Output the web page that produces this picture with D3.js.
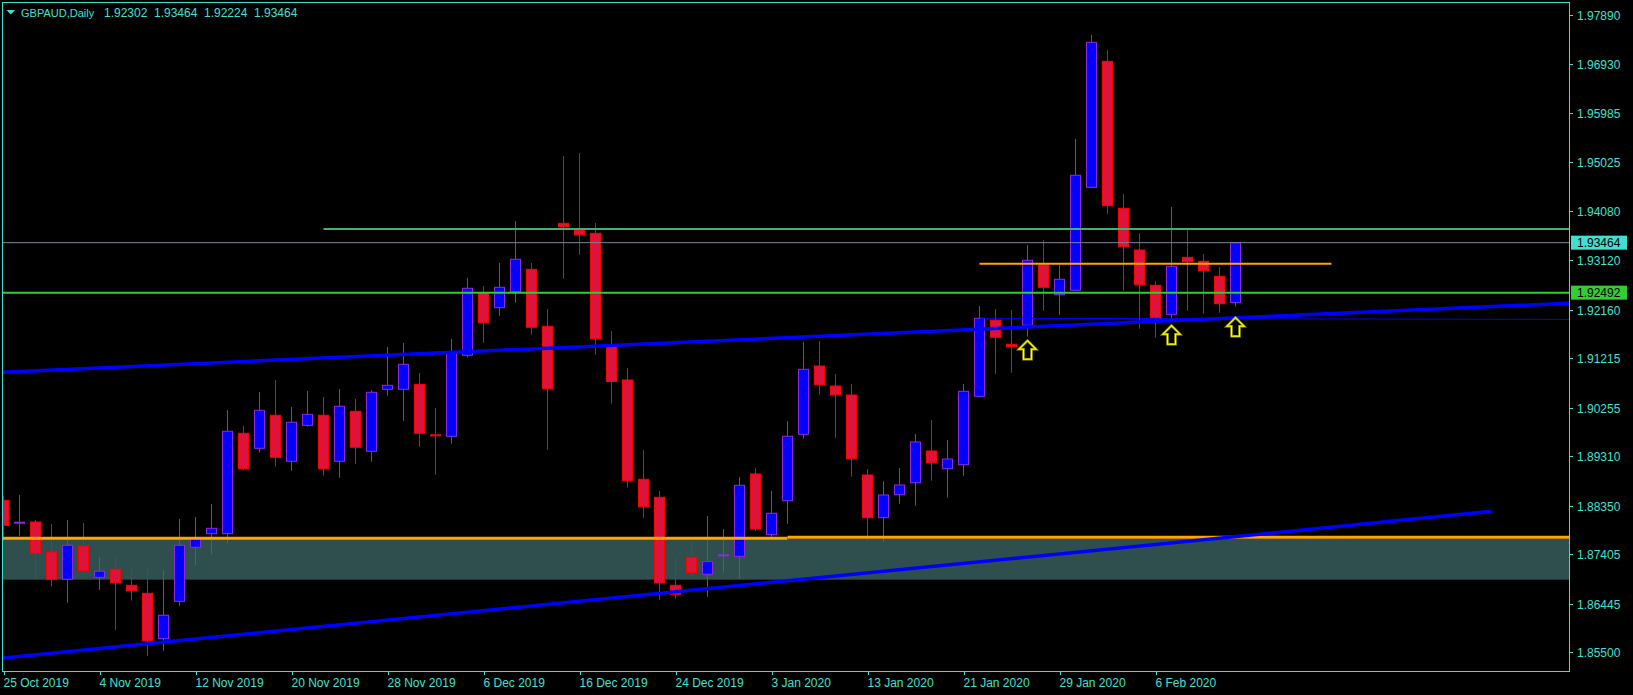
<!DOCTYPE html>
<html><head><meta charset="utf-8">
<script src="https://cdn.jsdelivr.net/npm/d3@7"></script>
<style>body{margin:0;background:#000;overflow:hidden}svg{display:block}</style>
</head><body>
<svg id="chart" width="1633" height="695"></svg>
<script>
// ---- DATA ----
const dates = ["2019-10-25","2019-10-28","2019-10-29","2019-10-30","2019-10-31","2019-11-01",
"2019-11-04","2019-11-05","2019-11-06","2019-11-07","2019-11-08","2019-11-11","2019-11-12","2019-11-13","2019-11-14","2019-11-15",
"2019-11-18","2019-11-19","2019-11-20","2019-11-21","2019-11-22","2019-11-25","2019-11-26","2019-11-27","2019-11-28","2019-11-29",
"2019-12-02","2019-12-03","2019-12-04","2019-12-05","2019-12-06","2019-12-09","2019-12-10","2019-12-11","2019-12-12","2019-12-13",
"2019-12-16","2019-12-17","2019-12-18","2019-12-19","2019-12-20","2019-12-23","2019-12-24","2019-12-26","2019-12-27","2019-12-30",
"2019-12-31","2020-01-02","2020-01-03","2020-01-06","2020-01-07","2020-01-08","2020-01-09","2020-01-10","2020-01-13","2020-01-14",
"2020-01-15","2020-01-16","2020-01-17","2020-01-20","2020-01-21","2020-01-22","2020-01-23","2020-01-24","2020-01-27","2020-01-28",
"2020-01-29","2020-01-30","2020-01-31","2020-02-03","2020-02-04","2020-02-05","2020-02-06","2020-02-07","2020-02-10","2020-02-11",
"2020-02-12","2020-02-13"];
const opens = [1.88455,1.88020,1.88033,1.87450,1.86920,1.87567,1.86958,1.87114,1.86803,1.86647,
1.85765,1.86492,1.87542,1.87806,1.87806,1.89758,1.89466,1.90108,1.89214,1.89913,
1.90108,1.89214,1.90186,1.89408,1.90613,1.90613,1.90710,1.89720,1.89700,1.91274,
1.92485,1.92200,1.92505,1.92946,1.91838,1.93840,1.93710,1.93646,1.91436,1.90794,
1.88864,1.88514,1.86803,1.87347,1.87017,1.87386,1.87367,1.88967,1.87787,1.88447,
1.89738,1.91066,1.90677,1.90502,1.88947,1.88117,1.88564,1.88797,1.89414,1.89070,
1.89147,1.90477,1.91955,1.91488,1.91858,1.93030,1.92452,1.92538,1.94540,1.96990,
1.94132,1.93321,1.92635,1.92071,1.93179,1.93102,1.92810,1.92302];
const highs = [1.88539,1.88558,1.88072,1.87995,1.88072,1.88014,1.87347,1.87359,1.87114,1.87139,
1.87100,1.88092,1.88131,1.88383,1.90211,1.89900,1.90561,1.90794,1.90269,1.90580,
1.90464,1.90619,1.90425,1.90600,1.91436,1.91513,1.90930,1.90250,1.91591,1.92777,
1.92621,1.93069,1.93885,1.93069,1.92174,1.95149,1.95207,1.93846,1.91747,1.91027,
1.89433,1.88636,1.87334,1.87645,1.88150,1.87897,1.88908,1.89083,1.88636,1.89997,
1.91533,1.91552,1.90911,1.90716,1.89064,1.88830,1.89083,1.89744,1.90016,1.89628,
1.90716,1.92233,1.92174,1.92155,1.93419,1.93516,1.93030,1.95479,1.97501,1.97210,
1.94410,1.93646,1.92713,1.94157,1.93710,1.93244,1.92985,1.93464];
const lows = [1.87625,1.87767,1.86925,1.86776,1.86465,1.87003,1.86711,1.85934,1.86504,1.85428,
1.85531,1.86406,1.87197,1.87411,1.87619,1.89044,1.89381,1.89109,1.89031,1.89886,
1.88934,1.88895,1.89167,1.89206,1.90489,1.90003,1.89497,1.88953,1.89556,1.91231,
1.91519,1.92044,1.92297,1.91675,1.89439,1.92763,1.93230,1.91286,1.90333,1.88700,
1.88117,1.86517,1.86542,1.86984,1.86581,1.87048,1.86931,1.87858,1.87748,1.88000,
1.89653,1.90508,1.89672,1.88914,1.87639,1.87639,1.88389,1.88350,1.88836,1.88506,
1.88934,1.90458,1.90917,1.90936,1.91636,1.92141,1.92064,1.92530,1.94530,1.94027,
1.92530,1.91791,1.91616,1.91999,1.92141,1.92083,1.92102,1.92224];
const closes = [1.87969,1.88020,1.87425,1.86920,1.87580,1.87087,1.87075,1.86853,1.86698,1.85726,
1.86220,1.87580,1.87713,1.87911,1.89797,1.89070,1.90205,1.89291,1.89972,1.90127,
1.89070,1.90283,1.89486,1.90555,1.90691,1.91099,1.89758,1.89718,1.91348,1.92577,
1.91908,1.92596,1.93141,1.91819,1.90625,1.93774,1.93619,1.91597,1.90765,1.88836,
1.88331,1.86853,1.86628,1.87048,1.87262,1.87386,1.88747,1.87897,1.88203,1.89700,
1.91002,1.90703,1.90508,1.89264,1.88117,1.88558,1.88753,1.89589,1.89186,1.89258,
1.90574,1.91994,1.91624,1.91441,1.93121,1.92596,1.92752,1.94774,1.97359,1.94183,
1.93386,1.92647,1.92005,1.93004,1.93094,1.92919,1.92277,1.93464];

const priceTicks = [1.97890,1.96930,1.95985,1.95025,1.94080,1.93120,1.92160,1.91215,1.90255,1.89310,1.88350,1.87405,1.86445,1.85500];
const dateTickBars = [0,6,12,18,24,30,36,42,48,54,60,66,72];
const dateTickLabels = ["25 Oct 2019","4 Nov 2019","12 Nov 2019","20 Nov 2019","28 Nov 2019","6 Dec 2019","16 Dec 2019","24 Dec 2019","3 Jan 2020","13 Jan 2020","21 Jan 2020","29 Jan 2020","6 Feb 2020"];

// horizontal levels: [startBar or null(left edge), endBar or null(right edge), price]
const seaGreenLevel = [20, null, 1.93730];
const bidLevel = [null, null, 1.93464];
const limeLevel = [null, null, 1.92492];
const orangeShortLevel = [61, 83, 1.93055];
const orangeLowLeft = [null, 49, 1.87717];
const orangeLowRight = [49, null, 1.87736];
// zone rectangle: [top price, bottom price]
const zone = [1.87710, 1.86912];
// trendlines: two anchors [bar, price], drawn from startBar(null = left edge) to endBar(null = right edge)
const upperTrend = {a:[0,1.90947], b:[90,1.92180], from:null, to:null};
const lowerTrend = {a:[0,1.85389], b:[93,1.88241], from:null, to:93};
const thinTrend = {a:[61,1.91994], b:[97,1.91972], from:61, to:null};
// up arrows: [bar, price of tip]
const arrowBars = [64, 73, 77];
const arrowPrices = [1.91558, 1.91850, 1.92005];

const titleName = "GBPAUD,Daily";
const titleValues = ["1.92302","1.93464","1.92224","1.93464"];

// ---- DRAW ----
const W = 1633, H = 695;
const L = 2, R = 1569, T = 2, B = 671;
const axisColor = "#40E0D0";
const svg = d3.select("#chart");
svg.append("rect").attr("width", W).attr("height", H).attr("fill", "#000");

const x = d3.scaleLinear().domain([0, 77]).range([3.5, 3.5 + 16 * 77]);
const y = d3.scaleLinear().domain([1.85500, 1.97890]).range([652.3, 15]);
const leftBar = x.invert(L), rightBar = x.invert(R);

svg.append("defs").append("clipPath").attr("id", "plotClip")
  .append("rect").attr("x", L + 1).attr("y", T + 1).attr("width", R - L - 1).attr("height", B - T - 1);
const g = svg.append("g").attr("clip-path", "url(#plotClip)");

// zone
g.append("rect").attr("x", L).attr("width", R - L)
  .attr("y", y(zone[0])).attr("height", y(zone[1]) - y(zone[0]))
  .attr("fill", "#2F4F4F");

// candles
const candles = dates.map((d, i) => ({i, o: opens[i], h: highs[i], l: lows[i], c: closes[i]}));
const cg = g.append("g");
candles.forEach(d => {
  const bull = d.c >= d.o;
  const line = bull ? "#8A2BE2" : "#FF0000";
  const fill = bull ? "#0000FF" : "#DC143C";
  const cx = x(d.i);
  cg.append("line").attr("x1", cx).attr("x2", cx).attr("y1", y(d.h)).attr("y2", y(d.l))
    .attr("stroke", line).attr("stroke-width", 1);
  const yt = y(Math.max(d.o, d.c)), yb = y(Math.min(d.o, d.c));
  if (yb - yt < 1.5) {
    cg.append("line").attr("x1", cx - 5.5).attr("x2", cx + 5.5).attr("y1", (yt + yb) / 2).attr("y2", (yt + yb) / 2)
      .attr("stroke", line).attr("stroke-width", 2);
  } else {
    cg.append("rect").attr("x", cx - 5).attr("width", 10).attr("y", yt).attr("height", yb - yt)
      .attr("fill", fill).attr("stroke", line).attr("stroke-width", 1);
  }
});

// horizontal lines
function hline(level, color, width) {
  const x1 = level[0] == null ? L : x(level[0]);
  const x2 = level[1] == null ? R : x(level[1]);
  g.append("line").attr("x1", x1).attr("x2", x2).attr("y1", y(level[2])).attr("y2", y(level[2]))
    .attr("stroke", color).attr("stroke-width", width);
}
hline(seaGreenLevel, "#3CB371", 2);
hline(bidLevel, "#778899", 1);
hline(limeLevel, "#32CD32", 2);
hline(orangeShortLevel, "#FFA500", 2);
hline(orangeLowLeft, "#FFA500", 3);
hline(orangeLowRight, "#FFA500", 3);

// trendlines
const lineGen = d3.line().x(p => x(p[0])).y(p => y(p[1]));
function trend(t, color, width) {
  const f = b => t.a[1] + (b - t.a[0]) * (t.b[1] - t.a[1]) / (t.b[0] - t.a[0]);
  const b0 = t.from == null ? leftBar : t.from;
  const b1 = t.to == null ? rightBar : t.to;
  g.append("path").attr("d", lineGen([[b0, f(b0)], [b1, f(b1)]]))
    .attr("fill", "none").attr("stroke", color).attr("stroke-width", width);
}
trend(upperTrend, "#0000FF", 3.5);
trend(lowerTrend, "#0000FF", 3.5);
trend(thinTrend, "#0000FF", 1);

// arrows
const arrowShape = "M0,0 L8.5,8.5 L4,8.5 L4,18.5 L-4,18.5 L-4,8.5 L-8.5,8.5 Z";
arrowBars.forEach((b, k) => {
  const ag = g.append("g").attr("transform", `translate(${x(b)},${y(arrowPrices[k])})`);
  ag.append("path").attr("d", arrowShape).attr("fill", "none").attr("stroke", "#9B9B00").attr("stroke-width", 2.6);
  ag.append("path").attr("d", arrowShape).attr("fill", "none").attr("stroke", "#FFFF00").attr("stroke-width", 1.1);
});

// frame
svg.append("rect").attr("x", L + 0.5).attr("y", T + 0.5).attr("width", R - L).attr("height", B - T)
  .attr("fill", "none").attr("stroke", axisColor).attr("stroke-width", 1);

// right axis
const ra = svg.append("g");
priceTicks.forEach(p => {
  const yy = Math.round(y(p)) + 0.5;
  ra.append("line").attr("x1", R).attr("x2", R + 4).attr("y1", yy).attr("y2", yy).attr("stroke", axisColor);
  ra.append("text").attr("x", R + 8).attr("y", yy + 4.5).text(d3.format(".5f")(p))
    .attr("fill", axisColor).attr("font-family", "Liberation Sans, Arial, sans-serif").attr("font-size", 12);
});

// price labels
function priceLabel(p, bg) {
  const yy = y(p);
  svg.append("rect").attr("x", R + 2).attr("y", yy - 7).attr("width", 56).attr("height", 14).attr("fill", bg);
  svg.append("text").attr("x", R + 8).attr("y", yy + 4.5).text(d3.format(".5f")(p))
    .attr("fill", "#000").attr("font-family", "Liberation Sans, Arial, sans-serif").attr("font-size", 12);
}
priceLabel(bidLevel[2], "#40E0D0");
priceLabel(limeLevel[2], "#32CD32");

// bottom axis
const ba = svg.append("g");
dateTickBars.forEach((b, k) => {
  const xx = Math.round(x(b)) + 0.5;
  ba.append("line").attr("x1", xx).attr("x2", xx).attr("y1", B).attr("y2", B + 4).attr("stroke", axisColor);
  ba.append("text").attr("x", xx - 1).attr("y", 687).text(dateTickLabels[k])
    .attr("fill", axisColor).attr("font-family", "Liberation Sans, Arial, sans-serif").attr("font-size", 12);
});

// title
svg.append("path").attr("d", "M6.5,10 L15,10 L10.75,14.5 Z").attr("fill", axisColor);
const tt = svg.append("text").attr("y", 17).attr("fill", axisColor)
  .attr("font-family", "Liberation Sans, Arial, sans-serif");
tt.append("tspan").attr("x", 21).attr("font-size", 11).text(titleName);
titleValues.forEach((v, k) => {
  tt.append("tspan").attr("x", 104 + 50 * k).attr("font-size", 12).text(v);
});
</script>
</body></html>
